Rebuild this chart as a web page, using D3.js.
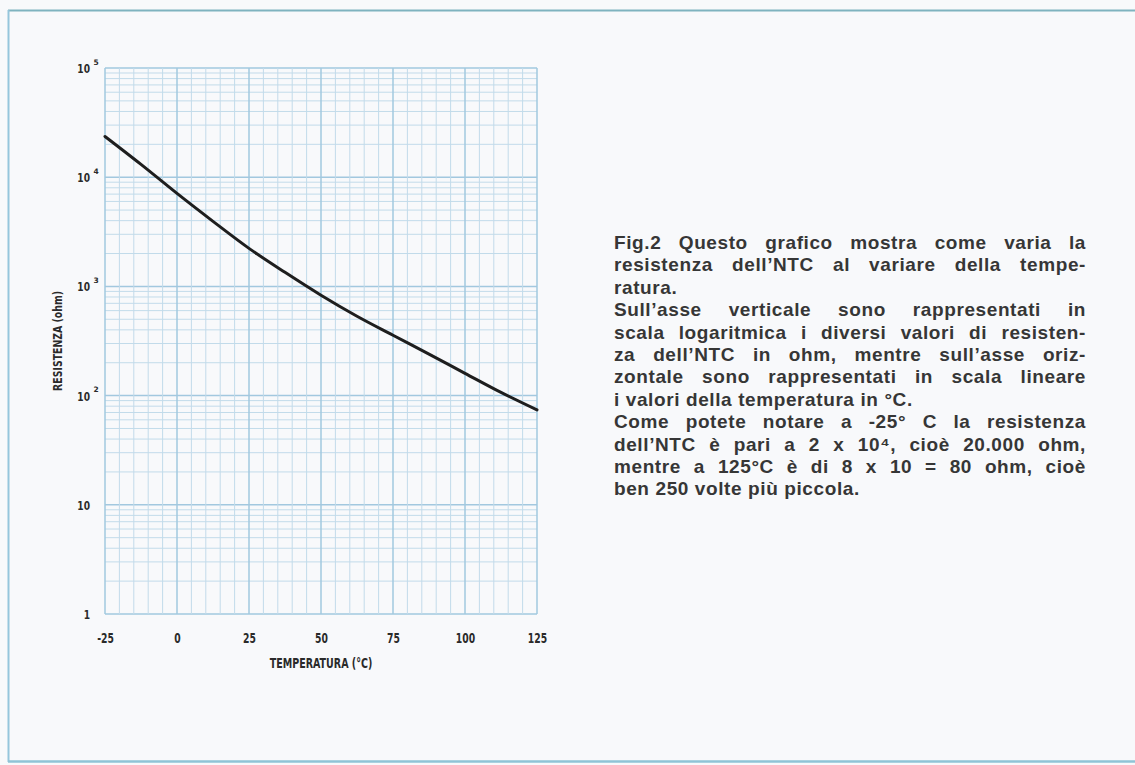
<!DOCTYPE html>
<html><head><meta charset="utf-8">
<script src="https://cdn.jsdelivr.net/npm/d3@7"></script>
<style>
html,body{margin:0;padding:0;background:#f8f9fb;}
svg{display:block;}
</style></head>
<body><svg id="c" width="1135" height="765"></svg>
<script>
// ---- data ----
const temperatures = [-25, -12.5, 0, 12.5, 25, 37.5, 50, 62.5, 75, 87.5, 100, 112.5, 125];
const resistanceOhm = [23600, 13100, 7100, 3940, 2230, 1345, 830, 533, 357, 240, 160, 107, 74];
const xTickLabels = [-25, 0, 25, 50, 75, 100, 125];
const yTickValues = [1, 10, 100, 1000, 10000, 100000];
const xTitle = "TEMPERATURA (°C)";
const yTitle = "RESISTENZA (ohm)";
const captionLines = [
  ["Fig.2 Questo grafico mostra come varia la", true],
  ["resistenza dell’NTC al variare della tempe-", true],
  ["ratura.", false],
  ["Sull’asse verticale sono rappresentati in", true],
  ["scala logaritmica i diversi valori di resisten-", true],
  ["za dell’NTC in ohm, mentre sull’asse oriz-", true],
  ["zontale sono rappresentati in scala lineare", true],
  ["i valori della temperatura in °C.", false],
  ["Come potete notare a -25° C la resistenza", true],
  ["dell’NTC è pari a 2 x 10⁴, cioè 20.000 ohm,", true],
  ["mentre a 125°C è di 8 x 10 = 80 ohm, cioè", true],
  ["ben 250 volte più piccola.", false]
];

const svg = d3.select("#c");
const W = 1135, H = 765;
svg.append("rect").attr("width", W).attr("height", H).attr("fill", "#f8f9fb");

// frame
svg.append("line").attr("x1", 8).attr("x2", W).attr("y1", 10.5).attr("y2", 10.5)
  .attr("stroke", "#7fb3bf").attr("stroke-width", 2);
svg.append("line").attr("x1", 8.5).attr("x2", 8.5).attr("y1", 10).attr("y2", 762)
  .attr("stroke", "#95c6dc").attr("stroke-width", 2);
svg.append("line").attr("x1", 8).attr("x2", W).attr("y1", 761.5).attr("y2", 761.5)
  .attr("stroke", "#8fc3d6").attr("stroke-width", 2.5);

const x = d3.scaleLinear().domain([-25, 125]).range([105, 537]);
const y = d3.scaleLog().domain([1, 1e5]).range([614, 68]);

const grid = svg.append("g");
const yMinor = y.ticks();
grid.selectAll("line.h").data(yMinor).join("line")
  .attr("x1", x(-25)).attr("x2", x(125))
  .attr("y1", d => y(d)).attr("y2", d => y(d))
  .attr("stroke", d => yTickValues.includes(d) ? "#a2c8df" : "#c2dbea")
  .attr("stroke-width", d => yTickValues.includes(d) ? 1.5 : 1);
const xMinor = d3.range(-25, 126, 5);
grid.selectAll("line.v").data(xMinor).join("line")
  .attr("x1", d => x(d)).attr("x2", d => x(d))
  .attr("y1", y(1e5)).attr("y2", y(1))
  .attr("stroke", d => xTickLabels.includes(d) ? "#a2c8df" : "#c2dbea")
  .attr("stroke-width", d => xTickLabels.includes(d) ? 1.5 : 1);

const axisFont = "'DejaVu Sans','Liberation Sans',sans-serif";
function condense(sel, f) {
  sel.each(function() {
    const L = this.getComputedTextLength();
    if (L > 0) d3.select(this).attr("textLength", L * f).attr("lengthAdjust", "spacingAndGlyphs");
  });
}

// x axis
const gx = svg.append("g").attr("transform", `translate(0,${y(1) + 16})`)
  .call(d3.axisBottom(x).tickValues(xTickLabels).tickSize(0).tickFormat(d => String(d)));
gx.select(".domain").remove();
gx.selectAll("text").attr("font-family", axisFont).attr("font-weight", "bold")
  .attr("font-size", 14).attr("fill", "#2a2a2a").attr("dy", "0.71em");
condense(gx.selectAll("text"), 0.66);

// y axis: base text via d3 axis, exponent as separate text
const gy = svg.append("g").attr("transform", `translate(${x(-25) - 15},0)`)
  .call(d3.axisLeft(y).tickValues(yTickValues).tickSize(0)
    .tickFormat(d => d <= 10 ? String(d) : "10"));
gy.select(".domain").remove();
gy.selectAll(".tick text").attr("x", 0).attr("font-family", axisFont).attr("font-weight", "bold")
  .attr("font-size", 13).attr("fill", "#2a2a2a").attr("dy", "0.35em");
condense(gy.selectAll(".tick text"), 0.7);
gy.selectAll(".tick").filter(d => d > 10).append("text")
  .attr("x", 3.5).attr("y", -4).attr("text-anchor", "start")
  .attr("font-family", axisFont).attr("font-weight", "bold").attr("font-size", 7.5)
  .attr("fill", "#2a2a2a").text(d => String(Math.round(Math.log10(d))));

// titles
const xt = svg.append("text").attr("x", x(50)).attr("y", 668).attr("text-anchor", "middle")
  .attr("font-family", axisFont).attr("font-weight", "bold").attr("font-size", 14)
  .attr("fill", "#2a2a2a").text(xTitle);
condense(xt, 0.68);
const yt = svg.append("text").attr("transform", `translate(62,${(y(1e3) + y(1e2)) / 2}) rotate(-90)`)
  .attr("text-anchor", "middle").attr("font-family", axisFont).attr("font-weight", "bold")
  .attr("font-size", 12).attr("fill", "#2a2a2a").text(yTitle);
condense(yt, 0.78);

// curve
const pts = temperatures.map((t, i) => [t, resistanceOhm[i]]);
svg.append("path").datum(pts)
  .attr("d", d3.line().x(d => x(d[0])).y(d => y(d[1])).curve(d3.curveMonotoneX))
  .attr("fill", "none").attr("stroke", "#1e1e1e").attr("stroke-width", 3)
  .attr("stroke-linecap", "round");

// caption (justified)
const capX0 = 614, capX1 = 1086, capY0 = 249, capDY = 22.4;
const capFont = "'Liberation Sans','Arial',sans-serif";
const cap = svg.append("g").attr("font-family", capFont).attr("font-weight", "bold")
  .attr("font-size", 19).attr("letter-spacing", 0.6).attr("fill", "#363636");
const spaceNat = (() => { const t = cap.append("text").text("a a"); const a = t.node().getComputedTextLength(); t.text("aa"); const b = t.node().getComputedTextLength(); t.remove(); return a - b; })();
captionLines.forEach(([line, justify], i) => {
  const yy = capY0 + i * capDY;
  const words = line.split(" ");
  const widths = words.map(w => {
    const tmp = cap.append("text").text(w);
    const wd = tmp.node().getComputedTextLength();
    tmp.remove();
    return wd;
  });
  const total = d3.sum(widths);
  let gap = spaceNat;
  let scale = 1;
  if (justify && words.length > 1) {
    gap = (capX1 - capX0 - total) / (words.length - 1);
    if (gap < spaceNat * 0.7) { gap = spaceNat * 0.7; scale = (capX1 - capX0 - gap * (words.length - 1)) / total; }
  }
  let cx = capX0;
  words.forEach((w, k) => {
    const t = cap.append("text").attr("x", cx).attr("y", yy).text(w);
    if (scale !== 1) t.attr("textLength", widths[k] * scale).attr("lengthAdjust", "spacingAndGlyphs");
    cx += widths[k] * scale + gap;
  });
});
</script>
</body></html>
